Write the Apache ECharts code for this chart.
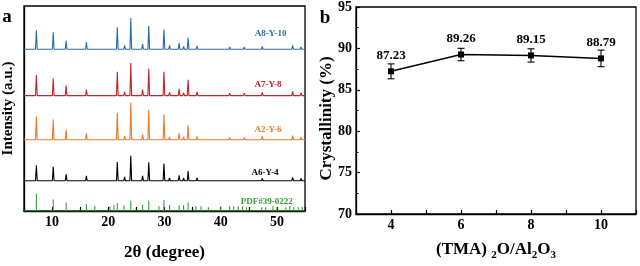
<!DOCTYPE html>
<html><head><meta charset="utf-8">
<script src="https://cdn.jsdelivr.net/npm/echarts@6/dist/echarts.min.js"></script>
<style>html,body{margin:0;padding:0;background:#fff}#c{width:640px;height:266px}</style>
</head><body><div id="c"></div>
<script>
// ---------- Panel a: XRD ----------
const xrdTicks = [10, 20, 30, 40, 50];
const peaks2theta = [7.2, 10.2, 12.5, 16.1, 17.6, 20.4, 21.6, 22.9, 24.0, 26.1, 27.2, 29.9, 30.9, 32.6, 33.4, 34.2, 35.8, 36.5, 40.2, 41.6, 42.3, 44.2, 47.4, 48.1, 49.6, 52.8, 54.3];
const baseA8 = 167.3, baseA7 = 119.3, baseA2 = 73.7, baseA6 = 31.3;
const peaksA8 = [19.7,17.4,8.7,7.4,2,1,22.7,4,32.4,5.7,24,20.4,4,6.4,3,11.7,3.5,2,1.5,2.5,2,2.5,3,1.5,1.5,4,2.5];
const peaksA7 = [21.4,17.7,10.4,6.4,2,1,24.7,4,33.7,6.4,27.7,24.7,3.7,7,3,16.4,4,2,1.5,2.5,2,2.5,3.5,1.5,1.5,4.5,3];
const peaksA2 = [24.3,21,10,6.6,2,1,27.6,4,38.3,5.3,31,26,3,7,3,15,3.5,2,1.5,2.5,2,2.5,3.5,1.5,1.5,4.3,3];
const peaksA6 = [16,14.4,6.7,5,2,1,19.4,4,25.7,5,19,17.7,3,5.7,3,10,3,2,1.5,2,1.5,2,2.5,1.5,1.5,3.5,2.5];
const pdfPos = [7.2,10.2,12.5,16.1,17.6,20.3,21.0,21.6,22.8,24.0,26.1,27.2,29.0,29.9,30.9,32.6,33.4,34.2,35.6,36.5,37.8,40.0,41.6,42.3,43.1,43.9,44.6,47.3,48.0,49.3,50.0,51.6,52.3,53.0,53.8,54.5];
const pdfH = [18,12,8.7,7.3,5.3,4.7,6.3,8,5.7,10.7,6.3,10.7,5,11.3,6.3,6,6,8.7,5,5,4,5,5,5,5,5,4,4,4,5,4,4,5,4,4,4.5];
const sampleNames = ['A8-Y-10','A7-Y-8','A2-Y-6','A6-Y-4','PDF#39-0222'];

// ---------- Panel b: crystallinity ----------
const ratio = [4, 6, 8, 10];
const crystallinity = [87.23, 89.26, 89.15, 88.79];
const crystErr = [0.9, 0.75, 0.8, 1.0];

const FONT = '"Liberation Serif","Times New Roman",serif';
const cBlue = '#2b6ca6', cRed = '#c0262c', cOrange = '#ec7a2c', cGreen = '#3a983a';

function spectrum(base, heights) {
  const pts = [[5, base]];
  peaks2theta.forEach((p, i) => { pts.push([p - 0.15, base], [p, base + heights[i]], [p + 0.15, base]); });
  pts.push([55, base]);
  return pts;
}
function sticks() {
  const pts = [[5, 0]];
  pdfPos.forEach((p, i) => { pts.push([p, 0], [p, pdfH[i]], [p, 0]); });
  pts.push([55, 0]);
  return pts;
}
const lineSer = (data, color) => ({
  type: 'line', xAxisIndex: 0, yAxisIndex: 0, data, showSymbol: false, symbol: 'none',
  lineStyle: { color, width: 1.1 }, silent: true, animation: false, z: 3
});

const chart = echarts.init(document.getElementById('c'), null, { renderer: 'canvas' });
const axisLabelStyle = { color: '#000', fontFamily: FONT, fontWeight: 'bold', fontSize: 14 };
chart.setOption({
  animation: false,
  grid: [
    { left: 23.6, top: 6, width: 281.4, height: 212, show: true, borderColor: '#000', borderWidth: 1.3, backgroundColor: 'transparent' },
    { left: 356, top: 6, width: 280, height: 210.7, show: true, borderColor: '#000', borderWidth: 1.3, backgroundColor: 'transparent' }
  ],
  xAxis: [
    { type: 'value', gridIndex: 0, min: 5, max: 55, interval: 5,
      axisLine: { lineStyle: { color: '#000', width: 1.3 } },
      axisTick: { inside: true, length: 4, lineStyle: { color: '#000', width: 1.2 } },
      axisLabel: Object.assign({ margin: 4, formatter: v => xrdTicks.indexOf(v) >= 0 ? String(v) : '' }, axisLabelStyle),
      splitLine: { show: false },
      name: '2θ (degree)', nameLocation: 'middle', nameGap: 33,
      nameTextStyle: { color: '#000', fontFamily: FONT, fontWeight: 'bold', fontSize: 17 } },
    { type: 'value', gridIndex: 1, min: 3, max: 11, interval: 1,
      axisLine: { lineStyle: { color: '#000', width: 1.3 } },
      axisTick: { inside: true, length: 4, lineStyle: { color: '#000', width: 1.2 } },
      axisLabel: Object.assign({ margin: 4, formatter: v => ratio.indexOf(v) >= 0 ? String(v) : '' }, axisLabelStyle),
      splitLine: { show: false },
      name: '{n|(TMA) }{s|2}{n|O/Al}{s|2}{n|O}{s|3}', nameLocation: 'middle', nameGap: 24,
      nameTextStyle: { color: '#000', fontFamily: FONT, fontWeight: 'bold', fontSize: 17,
        rich: { n: { fontFamily: FONT, fontWeight: 'bold', fontSize: 17, color: '#000' },
                s: { fontFamily: FONT, fontWeight: 'bold', fontSize: 11, color: '#000', padding: [12, 0, 0, 0] } } } }
  ],
  yAxis: [
    { type: 'value', gridIndex: 0, min: 0, max: 212,
      axisLine: { lineStyle: { color: '#000', width: 1.3 } },
      axisTick: { show: false }, axisLabel: { show: false }, splitLine: { show: false },
      name: 'Intensity (a.u.)', nameLocation: 'middle', nameGap: 8,
      nameTextStyle: { color: '#000', fontFamily: FONT, fontWeight: 'bold', fontSize: 15 } },
    { type: 'value', gridIndex: 1, min: 70, max: 95, interval: 5,
      axisLine: { lineStyle: { color: '#000', width: 1.3 } },
      axisTick: { inside: true, length: 4, lineStyle: { color: '#000', width: 1.2 } },
      minorTick: { show: true, splitNumber: 2, length: 2.5, lineStyle: { color: '#000', width: 1 } },
      axisLabel: Object.assign({ margin: 4 }, axisLabelStyle),
      splitLine: { show: false } }
  ],
  series: [
    lineSer(spectrum(baseA8, peaksA8), cBlue),
    lineSer(spectrum(baseA7, peaksA7), cRed),
    lineSer(spectrum(baseA2, peaksA2), cOrange),
    lineSer(spectrum(baseA6, peaksA6), '#000'),
    lineSer(sticks(), cGreen),
    { type: 'custom', xAxisIndex: 1, yAxisIndex: 1, z: 4,
      data: ratio.map((r, i) => [r, crystallinity[i] - crystErr[i], crystallinity[i] + crystErr[i]]),
      renderItem: (params, api) => {
        const x = api.value(0);
        const lo = api.coord([x, api.value(1)]), hi = api.coord([x, api.value(2)]);
        const w = 3.5, st = { stroke: '#000', lineWidth: 1.1 };
        return { type: 'group', children: [
          { type: 'line', shape: { x1: lo[0], y1: lo[1], x2: hi[0], y2: hi[1] }, style: st },
          { type: 'line', shape: { x1: lo[0] - w, y1: lo[1], x2: lo[0] + w, y2: lo[1] }, style: st },
          { type: 'line', shape: { x1: hi[0] - w, y1: hi[1], x2: hi[0] + w, y2: hi[1] }, style: st }
        ] };
      } },
    { type: 'line', xAxisIndex: 1, yAxisIndex: 1, z: 5,
      data: ratio.map((r, i) => [r, crystallinity[i]]),
      symbol: 'rect', symbolSize: 6, showSymbol: true,
      lineStyle: { color: '#000', width: 1.5 }, itemStyle: { color: '#000' },
      label: { show: true, position: 'top', distance: 6, color: '#000', fontFamily: FONT, fontWeight: 'bold', fontSize: 13,
        formatter: p => p.value[1].toFixed(2) } }
  ],
  graphic: [
    { type: 'text', x: 270.7, y: 33.3, style: { text: sampleNames[0], fill: cBlue, font: 'bold 9px ' + FONT, textAlign: 'center', textVerticalAlign: 'middle' } },
    { type: 'text', x: 268, y: 85, style: { text: sampleNames[1], fill: cRed, font: 'bold 9px ' + FONT, textAlign: 'center', textVerticalAlign: 'middle' } },
    { type: 'text', x: 268, y: 129.3, style: { text: sampleNames[2], fill: cOrange, font: 'bold 9px ' + FONT, textAlign: 'center', textVerticalAlign: 'middle' } },
    { type: 'text', x: 265, y: 172.3, style: { text: sampleNames[3], fill: '#000', font: 'bold 9px ' + FONT, textAlign: 'center', textVerticalAlign: 'middle' } },
    { type: 'text', x: 266.7, y: 201.7, style: { text: sampleNames[4], fill: cGreen, font: 'bold 9px ' + FONT, textAlign: 'center', textVerticalAlign: 'middle' } },
    { type: 'text', x: 7, y: 17, style: { text: 'a', fill: '#000', font: 'bold 19px ' + FONT, textAlign: 'center', textVerticalAlign: 'middle' } },
    { type: 'text', x: 325, y: 18, style: { text: 'b', fill: '#000', font: 'bold 19px ' + FONT, textAlign: 'center', textVerticalAlign: 'middle' } },
    { type: 'text', x: 327, y: 118.5, rotation: Math.PI / 2, style: { text: 'Crystallinity (%)', fill: '#000', font: 'bold 17px ' + FONT, textAlign: 'center', textVerticalAlign: 'middle' } }
  ]
});
</script></body></html>
